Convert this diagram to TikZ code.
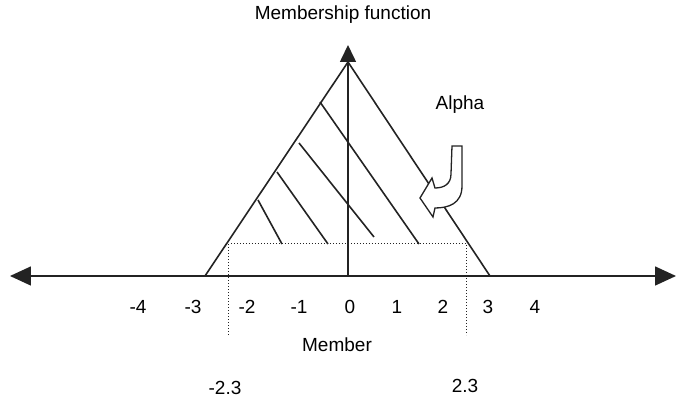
\documentclass[tikz,border=0pt]{standalone}
\usepackage{fontspec}
\setmainfont{Liberation Sans}
\usetikzlibrary{arrows.meta}
\definecolor{InkGray}{RGB}{35,35,35}

\begin{document}
\begin{tikzpicture}[x=1pt,y=1pt,font=\fontsize{19}{22}\selectfont,
  axisline/.style={line width=1.6pt,InkGray},
  hatch/.style={line width=1.6pt,InkGray},
  cut/.style={dotted,line width=1pt,InkGray},
  bigtip/.tip={Triangle[length=21pt,width=19pt]},
  toptip/.tip={Triangle[length=17pt,width=16pt]}]
\useasboundingbox (-348,-127) rectangle (330,276);
\coordinate (west) at (-338,0);\coordinate (east) at (328,0);
\coordinate (origin) at (0,0);\coordinate (top) at (0,231);
\coordinate (apex) at (0,214);\coordinate (lbase) at (-143,0);\coordinate (rbase) at (142,0);
\draw[axisline,bigtip-bigtip] (west)--(east);
\draw[axisline] (lbase)--(apex)--(rbase);
\draw[axisline,-toptip] (origin)--(top);
\draw[hatch] (-90,76)--(-66,32);
\draw[hatch] (-71,104)--(-20,32);
\draw[hatch] (-49,133)--(26,39);
\draw[hatch] (-28,174)--(71,32);
\draw[cut] (-119,-59)--(-119,32)--(119,32)--(119,-59);
\draw[line width=1.3pt,InkGray,fill=white] (104,130)--(114,130)--(114,90)
  .. controls (114,72) and (100,68) .. (87,68)--(85,59)--(72,78)--(84,98)--(87,88)
  .. controls (96,88) and (103,92) .. (103,102)--cycle;
\node (memfn) at (-5,261){Membership function};
\node (alpha) at (112,171){Alpha};
\foreach \v/\px in {-4/-210,-3/-155,-2/-101,-1/-49,0/2,1/49,2/95,3/140,4/187}{\node (tick\v) at (\px,-31){\v};}
\node (member) at (-11,-69){Member};
\node (lowcut) at (-123,-112){-2.3};
\node (highcut) at (117,-110){2.3};
\end{tikzpicture}
\end{document}
